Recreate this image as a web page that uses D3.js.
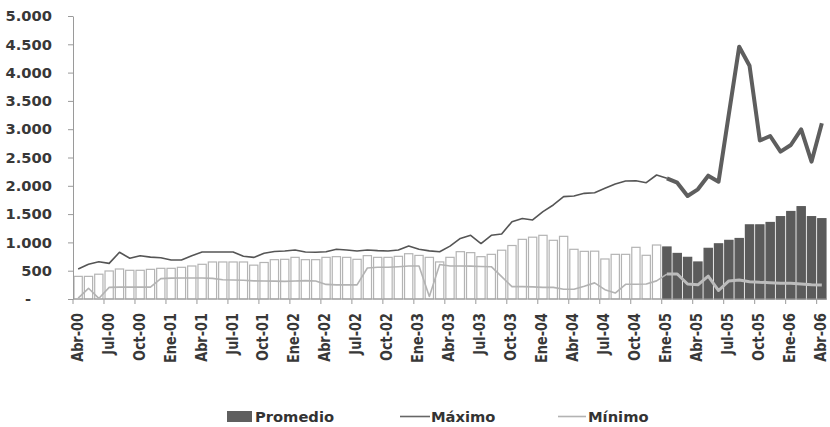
<!DOCTYPE html>
<html>
<head>
<meta charset="utf-8">
<script src="https://cdn.jsdelivr.net/npm/d3@7/dist/d3.min.js"></script>
<style>
  html, body { margin: 0; padding: 0; background: #fff; }
  svg { display: block; font-family: "DejaVu Sans", Verdana, sans-serif; font-weight: bold; }
</style>
</head>
<body>
<svg id="chart" width="830" height="427"></svg>
<script>
// Monthly series, Abr-00 .. Abr-06
const months = [
  "Abr-00","May-00","Jun-00","Jul-00","Ago-00","Sep-00","Oct-00","Nov-00","Dic-00",
  "Ene-01","Feb-01","Mar-01","Abr-01","May-01","Jun-01","Jul-01","Ago-01","Sep-01","Oct-01","Nov-01","Dic-01",
  "Ene-02","Feb-02","Mar-02","Abr-02","May-02","Jun-02","Jul-02","Ago-02","Sep-02","Oct-02","Nov-02","Dic-02",
  "Ene-03","Feb-03","Mar-03","Abr-03","May-03","Jun-03","Jul-03","Ago-03","Sep-03","Oct-03","Nov-03","Dic-03",
  "Ene-04","Feb-04","Mar-04","Abr-04","May-04","Jun-04","Jul-04","Ago-04","Sep-04","Oct-04","Nov-04","Dic-04",
  "Ene-05","Feb-05","Mar-05","Abr-05","May-05","Jun-05","Jul-05","Ago-05","Sep-05","Oct-05","Nov-05","Dic-05",
  "Ene-06","Feb-06","Mar-06","Abr-06"
];

const promedio = [
  400, 400, 438, 495, 530, 507, 507, 524, 542, 542, 560, 583,
  613, 654, 654, 654, 654, 598, 645, 695, 701, 736, 695, 695,
  736, 748, 736, 701, 766, 736, 736, 754, 800, 770, 736, 655,
  736, 836, 819, 748, 789, 862, 945, 1054, 1092, 1125, 1037, 1107,
  878, 842, 845, 707, 789, 789, 913, 772, 954, 919, 805, 736,
  654, 895, 975, 1036, 1069, 1310, 1310, 1352, 1455, 1546, 1631, 1455,
  1419
];

const maximo = [
  530, 613, 659, 630, 825, 720, 765, 740, 730, 690, 690, 765,
  830, 830, 830, 830, 755, 735, 807, 840, 848, 866, 830, 825,
  836, 878, 866, 848, 866, 854, 848, 866, 936, 878, 850, 836,
  934, 1070, 1125, 980, 1125, 1148, 1366, 1422, 1396, 1543, 1661, 1808,
  1820, 1867, 1878, 1955, 2032, 2085, 2090, 2055, 2191, 2132, 2055, 1820,
  1938, 2179, 2073, 3270, 4458, 4120, 2800, 2880, 2603, 2721, 2998, 2426,
  3104
];

const minimo = [
  15, 189, 10, 205, 210, 210, 210, 210, 360, 368, 370, 370,
  370, 365, 340, 336, 330, 320, 318, 315, 312, 318, 324, 318,
  258, 250, 250, 250, 548, 560, 562, 571, 583, 583, 45, 610,
  583, 583, 580, 575, 571, 395, 218, 218, 215, 206, 206, 171,
  171, 225, 285, 165, 105, 260, 260, 265, 320, 440, 442, 265,
  250, 406, 150, 320, 336, 306, 295, 289, 277, 277, 265, 250,
  247
];

const yTicks = [0, 500, 1000, 1500, 2000, 2500, 3000, 3500, 4000, 4500, 5000];
const seriesNames = ["Promedio", "Máximo", "Mínimo"];
const highlightFrom = "Ene-05";   // months from here on are drawn emphasized

const svg = d3.select("#chart");
const mLeft = 73, mRight = 827, mTop = 16, mBottom = 299;
const splitIndex = months.indexOf(highlightFrom);

const x = d3.scaleBand().domain(months).range([mLeft, mRight]).paddingInner(0.2).paddingOuter(0.1);
const xc = d => x(d) + x.bandwidth() / 2;
const y = d3.scaleLinear().domain([0, 5000]).range([mBottom, mTop]);

const locale = d3.formatLocale({ decimal: ",", thousands: ".", grouping: [3], currency: ["", ""] });
const fmt = locale.format(",d");

// bars: Promedio
svg.append("g").selectAll("rect")
  .data(months)
  .join("rect")
  .attr("x", d => x(d))
  .attr("y", (d, i) => y(promedio[i]))
  .attr("width", x.bandwidth())
  .attr("height", (d, i) => y(0) - y(promedio[i]))
  .attr("fill", (d, i) => i >= splitIndex ? "#5b5b5b" : "#ffffff")
  .attr("stroke", (d, i) => i >= splitIndex ? "#5b5b5b" : "#b4b4b4")
  .attr("stroke-width", 1.2);

// y axis
const yAxis = d3.axisLeft(y).tickValues(yTicks).tickSize(5).tickSizeOuter(0).tickPadding(16)
  .tickFormat(d => d === 0 ? "-" : fmt(d));
const gy = svg.append("g").attr("transform", `translate(${mLeft},0)`).call(yAxis);
gy.select(".domain").attr("stroke", "#9a9a9a");
gy.selectAll(".tick line").attr("stroke", "#9a9a9a");
gy.selectAll(".tick text")
  .attr("fill", "#383838")
  .style("font-size", "14.7px")
  .style("font-weight", "bold")
  .style("font-family", "'DejaVu Sans', sans-serif");
gy.selectAll(".tick").filter(d => d === 0).select("text")
  .attr("text-anchor", "middle").attr("x", -45);

// x axis line, ticks and labels every third month
const gx = svg.append("g");
gx.append("line").attr("x1", mLeft).attr("x2", mRight).attr("y1", mBottom).attr("y2", mBottom)
  .attr("stroke", "#9a9a9a");
const labelled = months.filter((d, i) => i % 3 === 0);
const step = x.step();
gx.selectAll("line.tk").data(labelled).join("line").attr("class", "tk")
  .attr("x1", d => x(d) - step * 0.1).attr("x2", d => x(d) - step * 0.1)
  .attr("y1", mBottom).attr("y2", mBottom + 5)
  .attr("stroke", "#9a9a9a");
gx.selectAll("text").data(labelled).join("text")
  .attr("transform", d => `translate(${xc(d) - 1},${mBottom + 14}) rotate(-90) scale(0.86,1)`)
  .attr("text-anchor", "end")
  .attr("dy", "0.36em")
  .attr("fill", "#383838")
  .style("font-size", "15px")
  .text(d => d);

// lines: Mínimo and Máximo
const line = d3.line().x(p => xc(p.m)).y(p => y(p.v));
const pts = arr => arr.map((v, i) => ({ m: months[i], v, i }));
const minPts = pts(minimo), maxPts = pts(maximo);

svg.append("path").attr("d", line(minPts.filter(p => p.i <= splitIndex)))
  .attr("fill", "none").attr("stroke", "#b3b3b3").attr("stroke-width", 1.6).attr("stroke-linejoin", "round");
svg.append("path").attr("d", line(minPts.filter(p => p.i >= splitIndex)))
  .attr("fill", "none").attr("stroke", "#bcbcbc").attr("stroke-width", 3).attr("stroke-linejoin", "round");
svg.append("path").attr("d", line(maxPts.filter(p => p.i <= splitIndex)))
  .attr("fill", "none").attr("stroke", "#555555").attr("stroke-width", 1.6).attr("stroke-linejoin", "round");
svg.append("path").attr("d", line(maxPts.filter(p => p.i >= splitIndex)))
  .attr("fill", "none").attr("stroke", "#5e5e5e").attr("stroke-width", 4).attr("stroke-linejoin", "round");

// legend
const lg = svg.append("g").style("font-size", "14.7px").attr("fill", "#333");
lg.append("rect").attr("x", 227).attr("y", 411).attr("width", 25).attr("height", 11).attr("fill", "#5f5f5f");
lg.append("text").attr("x", 255).attr("y", 416.5).attr("dy", "0.36em").text(seriesNames[0]);
lg.append("line").attr("x1", 400).attr("x2", 430).attr("y1", 416.5).attr("y2", 416.5)
  .attr("stroke", "#666").attr("stroke-width", 1.6);
lg.append("text").attr("x", 431).attr("y", 416.5).attr("dy", "0.36em").text(seriesNames[1]);
lg.append("line").attr("x1", 558).attr("x2", 586).attr("y1", 416.5).attr("y2", 416.5)
  .attr("stroke", "#b3b3b3").attr("stroke-width", 1.6);
lg.append("text").attr("x", 588).attr("y", 416.5).attr("dy", "0.36em").text(seriesNames[2]);
</script>
</body>
</html>
